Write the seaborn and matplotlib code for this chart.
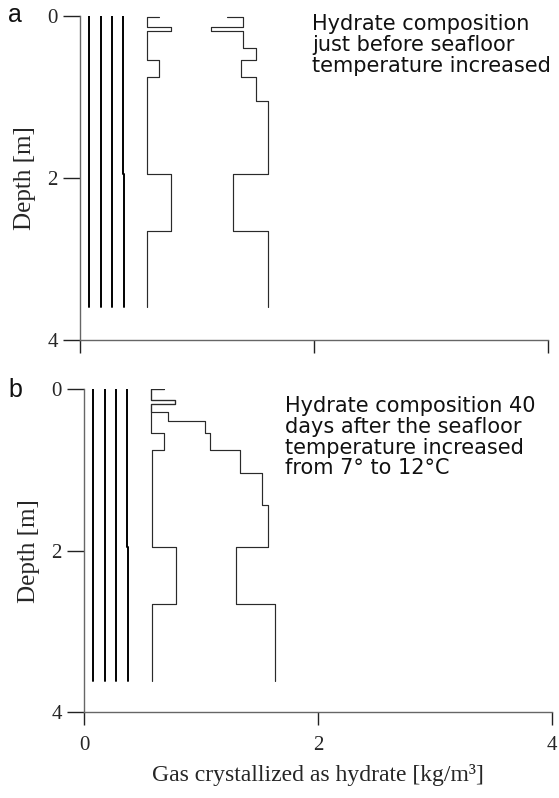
import numpy as np
import pandas as pd
import matplotlib
matplotlib.use("Agg")
import matplotlib.pyplot as plt
import seaborn as sns

# ---------------- data ----------------
# thin near-zero profiles (constant with depth)
a_thin_values = [0.08, 0.18, 0.275]
a_thin4_depths = [0.0, 1.95, 3.6]
a_thin4_values = [0.37, 0.38]
bottom_depth = 3.6

# panel a step profiles: value[i] holds from depth[i] to depth[i+1]
a_p3_depths = [0.016, 0.016, 0.136, 0.19, 0.55, 0.757, 1.95, 2.66, 3.6]
a_p3_values = [0.675, 0.573, 0.778, 0.573, 0.675, 0.573, 0.778, 0.573]
a_p4_depths = [0.016, 0.016, 0.136, 0.19, 0.40, 0.55, 0.757, 1.05, 1.95, 2.66, 3.6]
a_p4_values = [1.256, 1.393, 1.12, 1.393, 1.504, 1.376, 1.504, 1.607, 1.308, 1.607]

b_thin_values = [0.077, 0.18, 0.274]
b_thin4_depths = [0.0, 1.95, 3.61]
b_thin4_values = [0.368, 0.38]

b_p3_depths = [0.0, 0.0, 0.13, 0.18, 0.54, 0.75, 1.95, 2.66, 3.61]
b_p3_values = [0.68, 0.576, 0.78, 0.576, 0.68, 0.58, 0.79, 0.58]
b_p4_depths = [0.0, 0.0, 0.13, 0.18, 0.28, 0.39, 0.54, 0.75, 1.04, 1.43, 1.95, 2.66, 3.61]
b_p4_values = [0.68, 0.576, 0.78, 0.576, 0.72, 1.03, 1.075, 1.33, 1.52, 1.57, 1.30, 1.63]

ticks = [0, 2, 4]
tick_labels = ["0", "2", "4"]
text_a = "Hydrate composition\njust before seafloor\ntemperature increased"
text_b = "Hydrate composition 40\ndays after the seafloor\ntemperature increased\nfrom 7\u00b0 to 12\u00b0C"

# ---------------- style ----------------
sns.set_theme(style="white")
plt.rcParams["font.family"] = ["Liberation Serif", "DejaVu Serif"]

W, H = 559, 798
fig = plt.figure(figsize=(W / 100, H / 100), dpi=100)


def px_axes(x0, x1, y0, y1):
    return fig.add_axes([x0 / W, 1 - y1 / H, (x1 - x0) / W, (y1 - y0) / H])


def step_xy(depths, values):
    xs, ys = [], []
    for i, v in enumerate(values):
        xs += [v, v]
        ys += [depths[i], depths[i + 1]]
    return xs, ys


def draw(ax, d, v, color, lw):
    xs, ys = step_xy(d, v)
    df = pd.DataFrame({"x": xs, "y": ys})
    sns.lineplot(data=df, x="x", y="y", sort=False, estimator=None, ax=ax,
                 color=color, lw=lw)


def panel(ax, thin_vals, t4d, t4v, bd, p3d, p3v, p4d, p4v, show_x):
    for v in thin_vals:
        draw(ax, [0.0, bd], [v], "black", 1.4)
    draw(ax, t4d, t4v, "black", 1.4)
    draw(ax, p3d, p3v, "#2a2a2a", 0.85)
    draw(ax, p4d, p4v, "#2a2a2a", 0.85)
    ax.set_xlim(0, 4)
    ax.set_ylim(4, 0)
    ax.set_xticks(ticks)
    ax.set_yticks(ticks)
    ax.set_yticklabels(tick_labels, fontsize=15)
    if show_x:
        ax.set_xticklabels(tick_labels, fontsize=15)
    else:
        ax.set_xticklabels([])
    for s in ["top", "right"]:
        ax.spines[s].set_visible(False)
    for s in ["left", "bottom"]:
        ax.spines[s].set_color("#666666")
        ax.spines[s].set_linewidth(1.0)
    ax.tick_params(axis="y", direction="out", length=12, width=1.0,
                   color="#222222", pad=4, left=True)
    ax.tick_params(axis="x", direction="out", length=9.5, width=1.0,
                   color="#222222", pad=8, bottom=True)
    ax.set_ylabel("Depth [m]", fontsize=18, labelpad=8)
    ax.set_xlabel("")
    ax.set_facecolor("white")
    ax.margins(0)


ax_a = px_axes(80, 548, 15.7, 339.7)
panel(ax_a, a_thin_values, a_thin4_depths, a_thin4_values, bottom_depth,
      a_p3_depths, a_p3_values, a_p4_depths, a_p4_values, False)

ax_b = px_axes(84, 552, 389.3, 712)
panel(ax_b, b_thin_values, b_thin4_depths, b_thin4_values, 3.61,
      b_p3_depths, b_p3_values, b_p4_depths, b_p4_values, True)
ax_b.set_xlabel("Gas crystallized as hydrate [kg/m\u00b3]", fontsize=17, labelpad=6)

fig.text(312 / W, 1 - 14 / H, text_a, family=["DejaVu Sans"], fontsize=15,
         va="top", ha="left", linespacing=1.05, color="#111111")
fig.text(285 / W, 1 - 396 / H, text_b, family=["DejaVu Sans"], fontsize=15,
         va="top", ha="left", linespacing=1.05, color="#111111")
fig.text(15 / W, 1 - 15 / H, "a", family=["Liberation Sans"], fontsize=18,
         va="center", ha="center", color="#111111")
fig.text(15 / W, 1 - 390 / H, "b", family=["Liberation Sans"], fontsize=18,
         va="center", ha="center", color="#111111")

fig.savefig("out.png", dpi=100, facecolor="white")
